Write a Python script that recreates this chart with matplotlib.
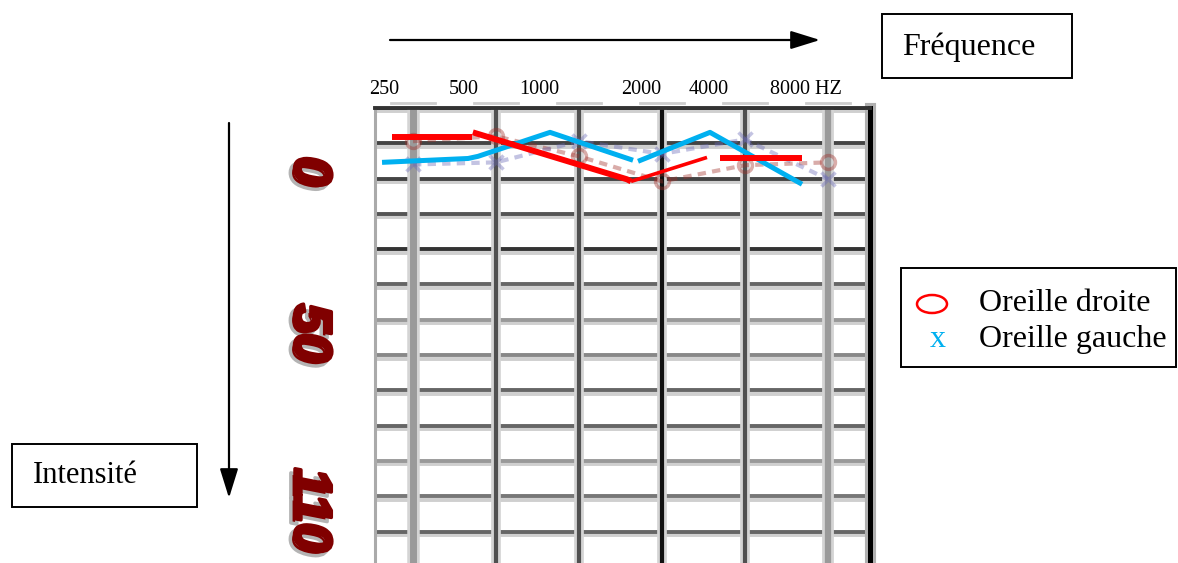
import matplotlib
matplotlib.use("Agg")
import matplotlib.pyplot as plt
import matplotlib.patheffects as pe
from matplotlib.patches import Rectangle, Ellipse

# frequences de l'audiogramme (Hz) et niveaux des lignes (dB)
freqs = [250, 500, 1000, 2000, 4000, 8000]
freq_labels = ["250", "500", "1000", "2000", "4000", "8000 HZ"]
levels = list(range(-10, 120, 10))
int_labels = ["0", "50", "110"]

# trace d'origine, pale, sous les traits de couleur
droite_fond = [-0.6, -2.0, 3.7, 10.8, 6.2, 5.4]
gauche_fond = [6.0, 5.4, -0.6, 3.0, -1.1, 10.2]

# traits rouges (oreille droite)
droite_f1 = [210, 409]
droite_db1 = [-1.7, -1.7]
droite_f2 = [412, 1493, 1544]
droite_db2 = [-3.1, 10.2, 10.8]
droite_f3 = [1544, 2912]
droite_db3 = [10.8, 4.0]
droite_f4 = [3246, 6440]
droite_db4 = [4.3, 4.3]

# trait bleu (oreille gauche)
gauche_f1 = [193, 396, 430, 785, 1570]
gauche_db1 = [5.4, 4.3, 3.7, -3.1, 4.8]
gauche_f2 = [1637, 2986, 6440]
gauche_db2 = [5.1, -3.1, 11.6]

W, H = 1178, 563
RED = "#ff0000"
BLUE = "#00b0f0"
SERIF = "Liberation Serif"

fig = plt.figure(figsize=(W / 100, H / 100), dpi=100)

# --- grille de l'audiogramme ---
ax = fig.add_axes([375 / W, 0, 495 / W, 455 / H])
ax.set_xscale("log", base=2)
ax.set_xlim(182, 11360)
ax.set_ylim(118.9, -10)
ax.set_xticks([])
ax.set_xticks([], minor=True)
ax.set_yticks([])

hcolors = ["#333333", "#444444", "#444444", "#555555", "#333333", "#666666",
           "#999999", "#888888", "#666666", "#666666", "#999999", "#777777", "#666666"]
for lv, c in zip(levels, hcolors):
    ax.axhline(lv, color=c, lw=2.8, zorder=1,
               path_effects=[pe.SimpleLineShadow(offset=(0, -2.5), shadow_color="#bbbbbb", alpha=0.7),
                             pe.Normal()])

vcolors = ["#9a9a9a", "#505050", "#505050", "#111111", "#505050", "#9a9a9a"]
vwidths = [5, 3, 3, 3, 3, 4.5]
for f, c, w in zip(freqs, vcolors, vwidths):
    ax.axvline(f, color=c, lw=w, zorder=1.5,
               path_effects=[pe.withStroke(linewidth=w + 4, foreground="#d4d4d4")])
    # petites marques grises au-dessus de la grille
    ax.plot([f / 1.2, f * 1.2], [-11.3, -11.3], color="#b8b8b8", lw=2,
            alpha=0.7, clip_on=False, zorder=1)

ax.spines["bottom"].set_visible(False)
ax.spines["top"].set(color="#333333", linewidth=2.8)
ax.spines["left"].set(color="#aaaaaa", linewidth=2.2)
ax.spines["right"].set(color="black", linewidth=3.6)
ax.spines["right"].set_path_effects([pe.withStroke(linewidth=8, foreground="#b0b0b0")])

# trace d'origine (pale)
ax.plot(freqs, droite_fond, color="#a0302a", alpha=0.4, lw=3, ls=(0, (2, 1.5)),
        marker="o", mfc="none", ms=10, mew=2.5, zorder=2)
ax.plot(freqs, gauche_fond, color="#6a6ab8", alpha=0.4, lw=3, ls=(0, (2, 1.5)),
        marker="x", ms=10, mew=2.5, zorder=2)

# traits de couleur
ax.plot(gauche_f1, gauche_db1, color=BLUE, lw=3.6, zorder=3, solid_capstyle="butt")
ax.plot(gauche_f2, gauche_db2, color=BLUE, lw=3.6, zorder=3, solid_capstyle="butt")
ax.plot(droite_f1, droite_db1, color=RED, lw=4.3, zorder=4, solid_capstyle="butt")
ax.plot(droite_f2, droite_db2, color=RED, lw=4.3, zorder=4, solid_capstyle="butt")
ax.plot(droite_f3, droite_db3, color=RED, lw=2.6, zorder=4, solid_capstyle="butt")
ax.plot(droite_f4, droite_db4, color=RED, lw=4.3, zorder=4, solid_capstyle="butt")

# --- annotations autour (en pixels de la figure) ---
ov = fig.add_axes([0, 0, 1, 1])
ov.set_xlim(0, W)
ov.set_ylim(H, 0)
ov.axis("off")
ov.patch.set_alpha(0)

arrow = "-|>,head_length=0.9,head_width=0.28"

# fleche frequence + cadre
ov.annotate("", xy=(820, 40), xytext=(390, 40),
            arrowprops=dict(arrowstyle=arrow, color="black", lw=1.6, mutation_scale=20,
                            shrinkA=0, shrinkB=0))
ov.add_patch(Rectangle((882, 14), 190, 64, fill=False, lw=1.4, ec="black"))
ov.text(969, 55, "Fréquence", ha="center", va="baseline", fontsize=23, family=SERIF)

# etiquettes des frequences
for lab, x in zip(freq_labels, [384, 464, 539, 641, 709, 806]):
    ov.text(x, 90, lab, ha="center", va="center", fontsize=14.5, family=SERIF)

# fleche intensite + cadre
ov.annotate("", xy=(229, 498), xytext=(229, 123),
            arrowprops=dict(arrowstyle=arrow, color="black", lw=1.6, mutation_scale=20,
                            shrinkA=0, shrinkB=0))
ov.add_patch(Rectangle((12, 444), 185, 63, fill=False, lw=1.4, ec="black"))
ov.text(85, 483, "Intensité", ha="center", va="baseline", fontsize=22, family=SERIF)

# etiquettes d'intensite, grasses avec ombre grise
ombre = [pe.SimplePatchShadow(offset=(-3, -3), shadow_rgbFace="#b4b4b4", alpha=1.0),
         pe.Stroke(offset=(-3, -3), linewidth=2.5, foreground="#b4b4b4"),
         pe.Stroke(linewidth=2.5, foreground="#800000"),
         pe.Normal()]
for lab, y in zip(int_labels, [171, 333, 510]):
    ov.text(309, y, lab, rotation=270, ha="center", va="center", fontsize=38,
            fontweight="bold", style="italic", family="Liberation Sans",
            color="#800000", path_effects=ombre)

# legende
ov.add_patch(Rectangle((901, 268), 275, 99, fill=False, lw=1.4, ec="black"))
ov.add_patch(Ellipse((932, 304), 30, 18, fill=False, ec=RED, lw=1.8))
ov.text(938, 347, "x", ha="center", va="baseline", fontsize=23, family=SERIF, color=BLUE)
ov.text(979, 311, "Oreille droite", ha="left", va="baseline", fontsize=23, family=SERIF)
ov.text(979, 347, "Oreille gauche", ha="left", va="baseline", fontsize=23, family=SERIF)

fig.savefig("out.png", dpi=100)
